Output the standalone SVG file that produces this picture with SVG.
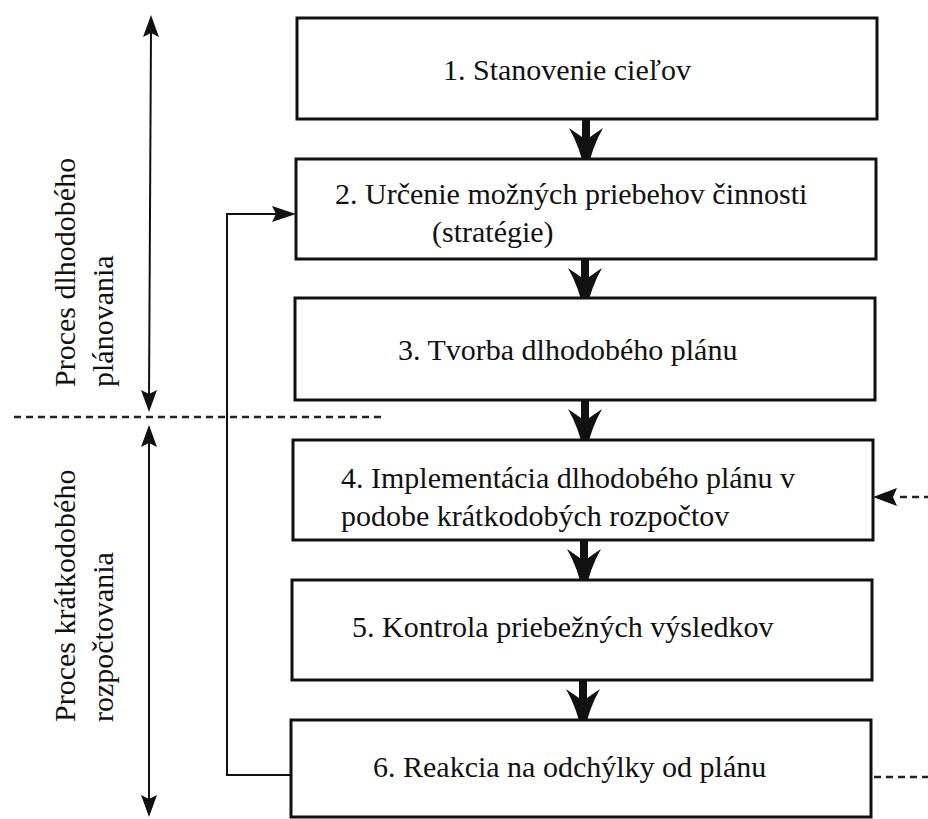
<svg xmlns="http://www.w3.org/2000/svg" width="928" height="819" viewBox="0 0 928 819">
  <defs>
    <style>
      .box { fill: #ffffff; stroke: #111111; stroke-width: 3; }
      .t { font-family: 'Liberation Serif', 'Times New Roman', 'DejaVu Serif', serif; font-size: 30px; fill: #111111; }
      .ln { fill: none; stroke: #111111; stroke-width: 2; }
      .dash { fill: none; stroke: #222222; stroke-width: 2.5; stroke-dasharray: 7 5; }
      .fill { fill: #111111; }
    </style>
    <path id="bigArrow" class="fill" d="M-4,0 L4,0 L4,18 L17,9 Q6,28 0,56 Q-6,28 -17,9 L-4,18 Z"/>
  </defs>
  <rect width="928" height="819" fill="#ffffff"/>

  <g id="connectors">
    <use href="#bigArrow" transform="translate(586,119)"/>
    <use href="#bigArrow" transform="translate(585,259)"/>
    <use href="#bigArrow" transform="translate(585,400)"/>
    <use href="#bigArrow" transform="translate(584,540)"/>
    <use href="#bigArrow" transform="translate(583,680)"/>
    <polyline class="ln" points="291,775 227,775 227,214 276,214"/>
    <polygon class="fill" points="296,214 272,206 276,214 272,222"/>
    <line class="dash" x1="900" y1="497" x2="928" y2="497"/>
    <polygon class="fill" points="873,497 897,488 893,497 897,506"/>
    <line class="dash" x1="874" y1="777" x2="928" y2="777"/>
    <line class="dash" x1="14" y1="417" x2="383" y2="417"/>
    <line class="ln" x1="151" y1="30" x2="149" y2="398"/>
    <polygon class="fill" points="151,15 159,37 151,33 143,37"/>
    <polygon class="fill" points="149,412 157,390 149,394 141,390"/>
    <line class="ln" x1="149" y1="440" x2="149" y2="802"/>
    <polygon class="fill" points="149,425 157,447 149,443 141,447"/>
    <polygon class="fill" points="149,817 157,795 149,799 141,795"/>
  </g>

  <g id="label-long" font-family="Liberation Serif, serif">
    <text class="t" transform="translate(75,387) rotate(-90)">Proces dlhodobého</text>
    <text class="t" transform="translate(113,387) rotate(-90)">plánovania</text>
  </g>
  <g id="label-short" font-family="Liberation Serif, serif">
    <text class="t" transform="translate(75,722) rotate(-90)">Proces krátkodobého</text>
    <text class="t" transform="translate(113,722) rotate(-90)">rozpočtovania</text>
  </g>

  <g id="n1">
    <rect class="box" x="297" y="18" width="580" height="101"/>
    <text class="t" x="443" y="80">1. Stanovenie cieľov</text>
  </g>
  <g id="n2">
    <rect class="box" x="296" y="159" width="580" height="100"/>
    <text class="t" x="335" y="204">2. Určenie možných priebehov činnosti</text>
    <text class="t" x="432" y="242">(stratégie)</text>
  </g>
  <g id="n3">
    <rect class="box" x="295" y="298" width="580" height="102"/>
    <text class="t" x="398" y="360">3. Tvorba dlhodobého plánu</text>
  </g>
  <g id="n4">
    <rect class="box" x="293" y="440" width="580" height="100"/>
    <text class="t" x="341" y="488">4. Implementácia dlhodobého plánu v</text>
    <text class="t" x="341" y="526">podobe krátkodobých rozpočtov</text>
  </g>
  <g id="n5">
    <rect class="box" x="292" y="580" width="580" height="100"/>
    <text class="t" x="352" y="637">5. Kontrola priebežných výsledkov</text>
  </g>
  <g id="n6">
    <rect class="box" x="291" y="720" width="580" height="97"/>
    <text class="t" x="373" y="777">6. Reakcia na odchýlky od plánu</text>
  </g>
</svg>
